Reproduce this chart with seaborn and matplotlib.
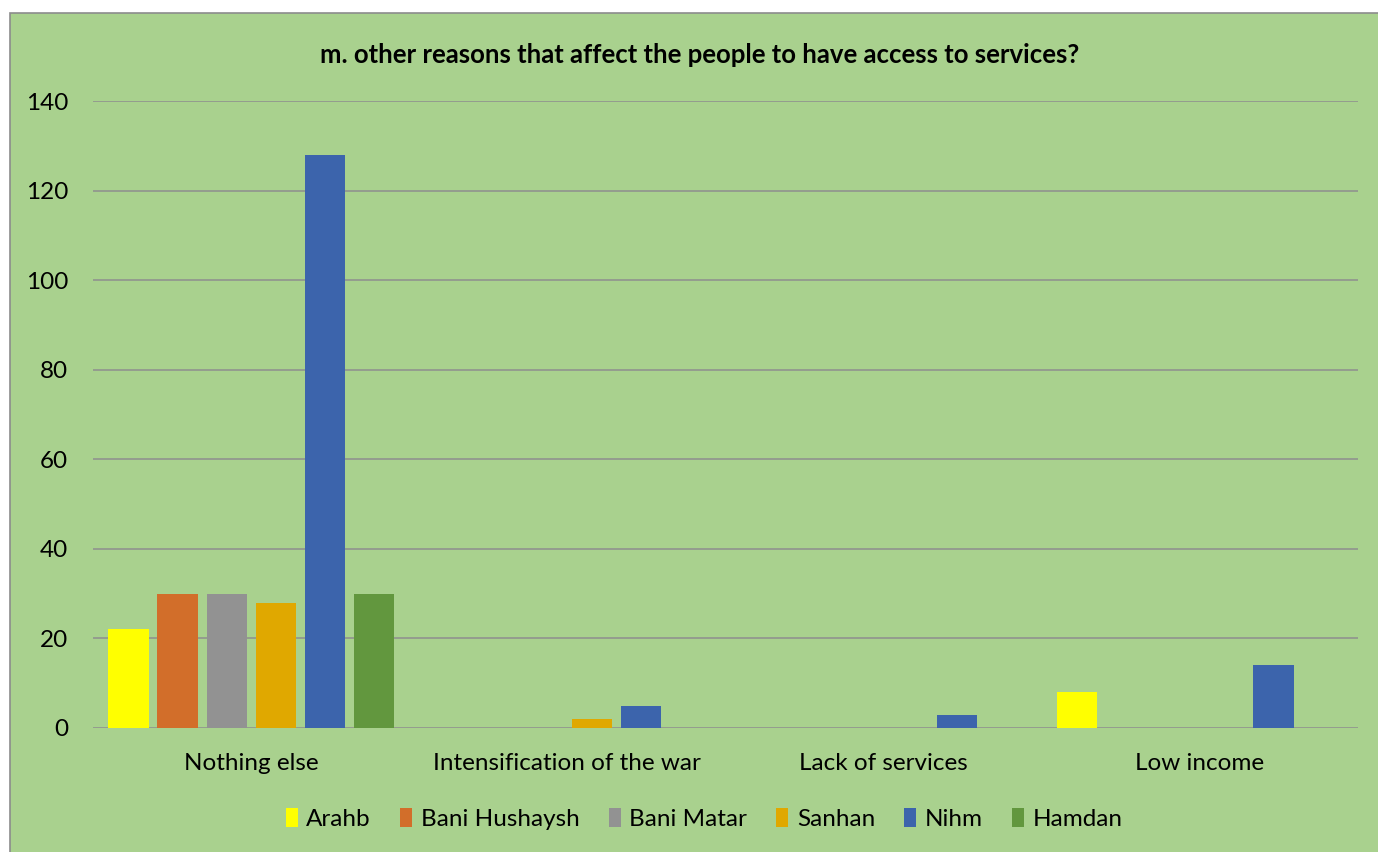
import matplotlib
matplotlib.use("Agg")
import matplotlib.pyplot as plt
import matplotlib.patches as mpatches
import seaborn as sns
import pandas as pd

categories = ["Nothing else", "Intensification of the war", "Lack of services", "Low income"]
districts = ["Arahb", "Bani Hushaysh", "Bani Matar", "Sanhan", "Nihm", "Hamdan"]
arahb = [22, 0, 0, 8]
bani_hushaysh = [30, 0, 0, 0]
bani_matar = [30, 0, 0, 0]
sanhan = [28, 2, 0, 0]
nihm = [128, 5, 3, 14]
hamdan = [30, 0, 0, 0]
yticks = [0, 20, 40, 60, 80, 100, 120, 140]
colors = ["#FFFF00", "#D26E2A", "#929292", "#E0A800", "#3C64AC", "#62973E"]
title = "m. other reasons that affect the people to have access to services?"

series = [arahb, bani_hushaysh, bani_matar, sanhan, nihm, hamdan]
rows = []
for d, vals in zip(districts, series):
    for c, v in zip(categories, vals):
        rows.append({"Category": c, "District": d, "Value": v})
df = pd.DataFrame(rows)

sns.set_style("white")
plt.rcParams["font.family"] = ["Lato", "DejaVu Sans"]
plt.rcParams["text.color"] = "black"
plt.rcParams["xtick.color"] = "black"
plt.rcParams["ytick.color"] = "black"

BG = "#A9D18E"
fig = plt.figure(figsize=(13.78, 8.52), dpi=100)
fig.patch.set_facecolor("white")
W, H = 1378, 852
rect = mpatches.Rectangle((10 / W, -0.1), 1.2, 0.1 + (852 - 13) / H, transform=fig.transFigure,
                          facecolor=BG, edgecolor="#8C8C8C", linewidth=1.2, zorder=-10)
fig.patches.append(rect)

ax = fig.add_axes([93 / W, 1 - 728 / H, (1358 - 93) / W, (728 - 101) / H])
ax.set_zorder(2)
ax.set_facecolor(BG)

sns.barplot(data=df, x="Category", y="Value", hue="District", order=categories,
            hue_order=districts, palette=colors, width=0.93, gap=0.18,
            linewidth=0, saturation=1, ax=ax, legend=True, errorbar=None)

ax.set_ylim(0, 140)
ax.set_xlim(-0.5, len(categories) - 0.5)
ax.set_yticks(yticks)
ax.set_yticklabels([str(t) for t in yticks])
ax.yaxis.grid(True, color="#8E8E8E", linewidth=1.1)
ax.set_axisbelow(True)
for s in ax.spines.values():
    s.set_visible(False)
ax.tick_params(axis="both", length=0, labelsize=17.5, colors="black")
ax.tick_params(axis="y", pad=18)
ax.tick_params(axis="x", pad=18)
ax.set_xlabel("")
ax.set_ylabel("")

fig.text(0.508, 1 - 55 / H, title, ha="center", va="center", fontsize=18.5,
         fontweight="bold", color="black")

handles = [mpatches.Patch(facecolor=c, edgecolor="none") for c in colors]
ax.legend_.remove()
fig.legend(handles, districts, loc="center", bbox_to_anchor=(0.511, 1 - 819 / H),
           ncol=6, frameon=False, fontsize=17.5, handlelength=0.5, handleheight=0.8,
           handletextpad=0.35, columnspacing=1.2)

fig.savefig("out.png", dpi=100, facecolor=fig.get_facecolor())
